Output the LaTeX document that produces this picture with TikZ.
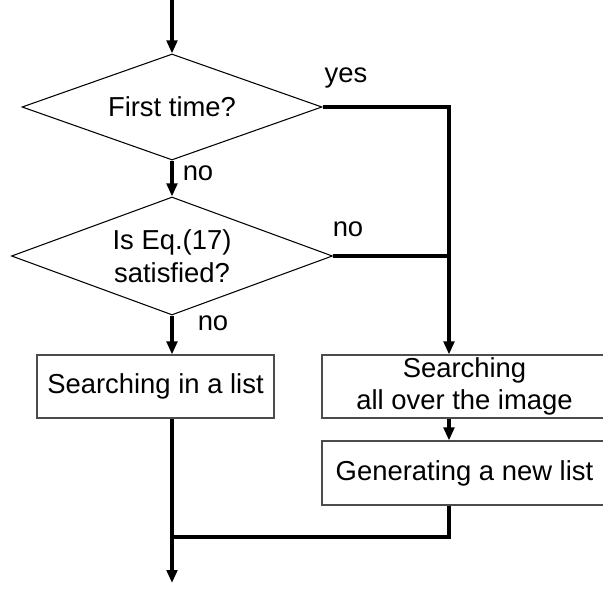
\documentclass[tikz,border=0pt]{standalone}
\usepackage{fontspec}
\setmainfont{Liberation Sans}
\usetikzlibrary{shapes.geometric,arrows.meta}

\begin{document}
\begin{tikzpicture}[font=\fontsize{15.6}{18.5}\selectfont,
  decision/.style={diamond,draw,line width=0.6pt,inner sep=0pt,align=center},
  stepbox/.style={rectangle,draw=black!70,line width=0.6pt,inner sep=0pt,align=center},
  flow/.style={line width=2pt},
  flowarrow/.style={line width=2pt,-{Triangle[length=0.26cm,width=0.21cm]}}]

\useasboundingbox (0,0) rectangle (12.06,-11.8);

\node[decision,aspect=2.8,minimum width=6cm,minimum height=2.12cm] (first) at (3.44,-2.14) {First time?};
\node[decision,aspect=2.7,minimum width=6.42cm,minimum height=2.36cm] (eqtest) at (3.44,-5.12) {Is Eq.(17)\\satisfied?};

\node[stepbox,minimum width=4.74cm,minimum height=1.26cm] (inlist) at (3.11,-7.73) {Searching in a list};
\node[stepbox,minimum width=5.7cm,minimum height=1.26cm] (allover) at (9.29,-7.73) {Searching\\all over the image};
\node[stepbox,minimum width=5.7cm,minimum height=1.28cm] (newlist) at (9.29,-9.46) {Generating a new list};

\coordinate (start) at (3.44,0);
\coordinate (rightbus) at (8.98,-2.14);
\coordinate (merge) at (3.44,-10.74);
\coordinate (finish) at (3.44,-11.66);

\draw[flowarrow] (start) -- (first.north);
\draw[flowarrow] (first.south) -- (eqtest.north);
\draw[flowarrow] (first.east) -- (rightbus) -- (rightbus |- allover.north);
\draw[flow] (eqtest.east) -- (eqtest.east -| rightbus);
\draw[flowarrow] (eqtest.south) -- (eqtest.south |- inlist.north);
\draw[flowarrow] (allover.south -| rightbus) -- (newlist.north -| rightbus);
\draw[flow] (newlist.south -| rightbus) -- (merge -| rightbus) -- (merge);
\draw[flowarrow] (inlist.south -| merge) -- (finish);

\node (yeslabel) at (6.92,-1.56) {yes};
\node (nofirst) at (3.96,-3.46) {no};
\node (noeqside) at (6.96,-4.58) {no};
\node (noeqdown) at (4.26,-6.46) {no};

\end{tikzpicture}
\end{document}
